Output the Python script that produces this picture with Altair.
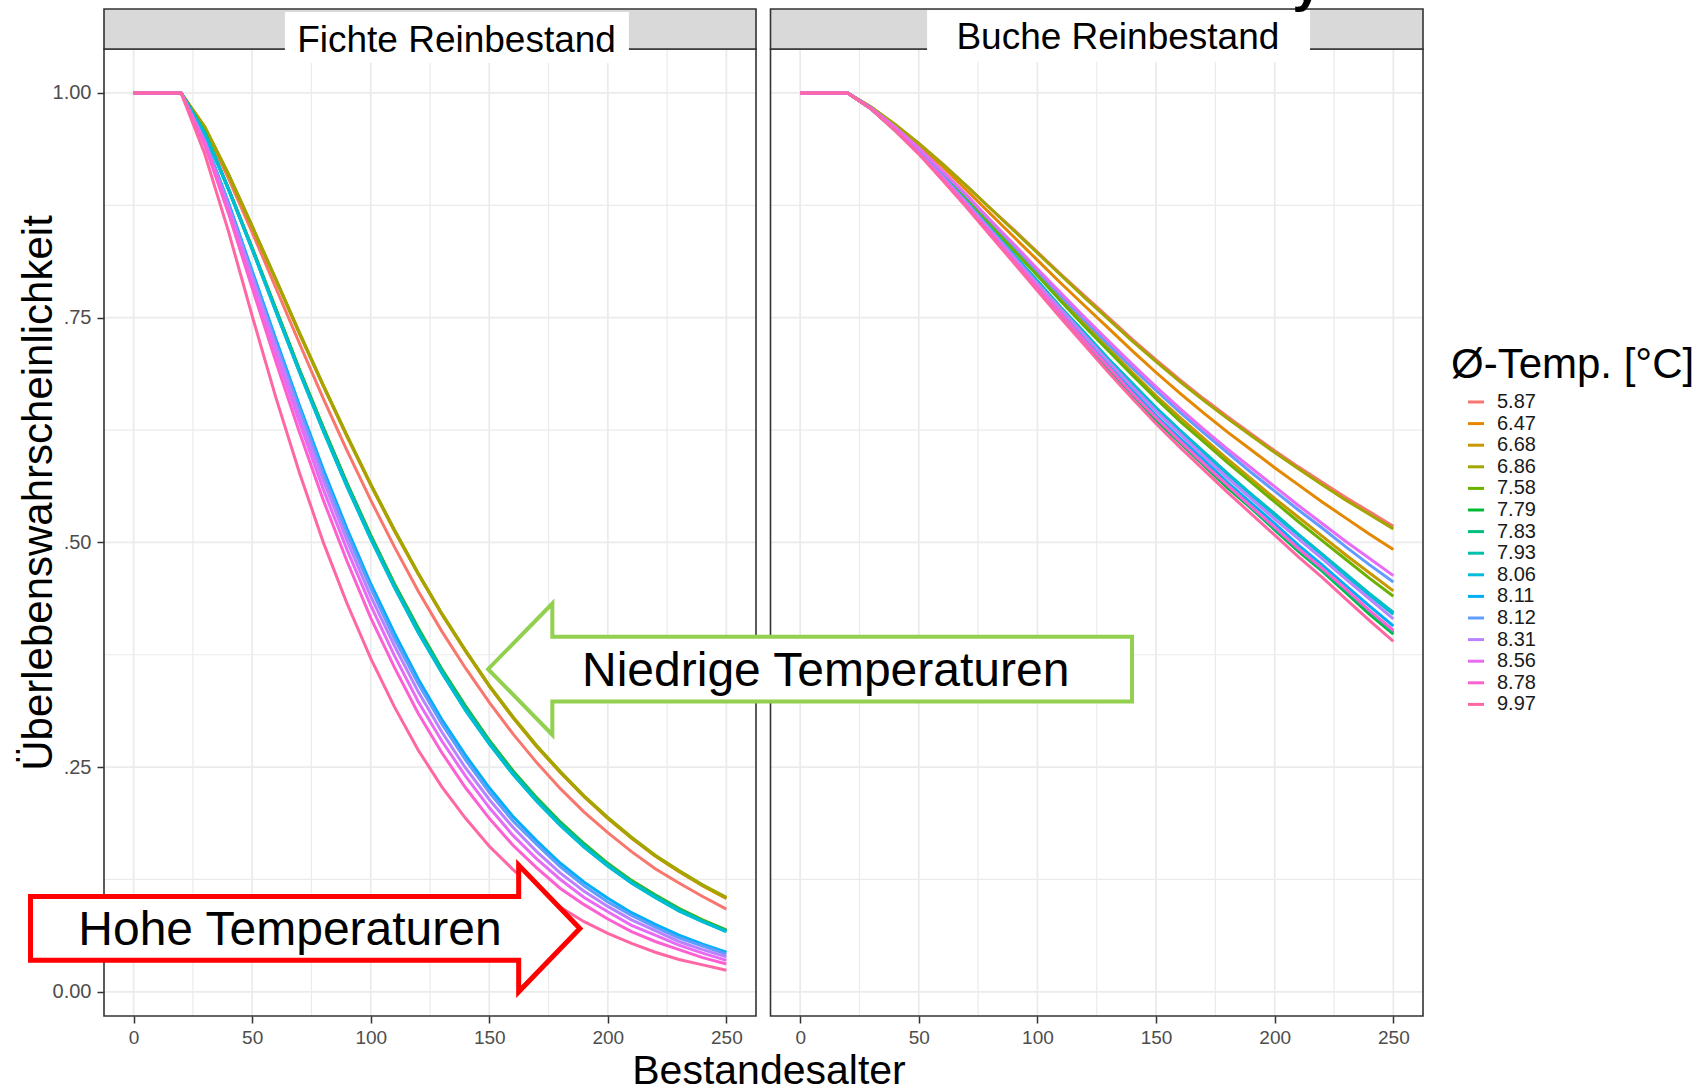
import altair as alt
import pandas as pd

# ---------------- data ----------------
AGES = [0, 10, 20, 30, 40, 50, 60, 70, 80, 90, 100, 110, 120, 130, 140,
        150, 160, 170, 180, 190, 200, 210, 220, 230, 240, 250]
TEMPS = ["5.87", "6.47", "6.68", "6.86", "7.58", "7.79", "7.83", "7.93",
         "8.06", "8.11", "8.12", "8.31", "8.56", "8.78", "9.97"]
COLORS = ["#F8766D", "#E58700", "#C99800", "#A3A500", "#6BB100", "#00BA38",
          "#00BF7D", "#00C0AF", "#00BCD8", "#00B0F6", "#619CFF", "#B983FF",
          "#E76BF3", "#FD61D1", "#FF67A4"]

FICHTE = {
    "5.87": [1, 1, 1, 0.960, 0.905, 0.845, 0.783, 0.721, 0.660, 0.602, 0.547, 0.495, 0.446, 0.401, 0.360, 0.322, 0.287, 0.255, 0.226, 0.200, 0.177, 0.156, 0.137, 0.121, 0.106, 0.092],
    "6.47": [1, 1, 1, 0.962, 0.909, 0.851, 0.792, 0.732, 0.674, 0.618, 0.564, 0.513, 0.465, 0.420, 0.379, 0.340, 0.305, 0.273, 0.244, 0.217, 0.193, 0.171, 0.151, 0.134, 0.118, 0.104],
    "6.68": [1, 1, 1, 0.962, 0.909, 0.851, 0.792, 0.732, 0.674, 0.618, 0.564, 0.513, 0.465, 0.420, 0.379, 0.340, 0.305, 0.273, 0.244, 0.217, 0.193, 0.171, 0.151, 0.134, 0.118, 0.104],
    "6.86": [1, 1, 1, 0.962, 0.910, 0.852, 0.793, 0.733, 0.675, 0.619, 0.565, 0.514, 0.466, 0.421, 0.380, 0.341, 0.306, 0.274, 0.245, 0.218, 0.194, 0.172, 0.152, 0.135, 0.119, 0.105],
    "7.58": [1, 1, 1, 0.956, 0.894, 0.828, 0.760, 0.692, 0.628, 0.566, 0.508, 0.454, 0.405, 0.359, 0.318, 0.280, 0.246, 0.216, 0.189, 0.165, 0.143, 0.124, 0.108, 0.093, 0.080, 0.069],
    "7.79": [1, 1, 1, 0.956, 0.893, 0.827, 0.759, 0.691, 0.627, 0.565, 0.507, 0.453, 0.404, 0.358, 0.317, 0.279, 0.245, 0.215, 0.188, 0.164, 0.142, 0.123, 0.107, 0.092, 0.079, 0.068],
    "7.83": [1, 1, 1, 0.956, 0.893, 0.827, 0.759, 0.691, 0.627, 0.565, 0.507, 0.453, 0.404, 0.358, 0.317, 0.279, 0.245, 0.215, 0.188, 0.164, 0.142, 0.123, 0.107, 0.092, 0.079, 0.068],
    "7.93": [1, 1, 1, 0.955, 0.893, 0.826, 0.757, 0.689, 0.624, 0.562, 0.504, 0.450, 0.400, 0.355, 0.313, 0.276, 0.242, 0.212, 0.185, 0.161, 0.140, 0.121, 0.105, 0.090, 0.078, 0.067],
    "8.06": [1, 1, 1, 0.955, 0.893, 0.826, 0.757, 0.689, 0.624, 0.562, 0.504, 0.450, 0.400, 0.355, 0.313, 0.276, 0.242, 0.212, 0.185, 0.161, 0.140, 0.121, 0.105, 0.090, 0.078, 0.067],
    "8.11": [1, 1, 1, 0.948, 0.878, 0.802, 0.726, 0.652, 0.581, 0.515, 0.454, 0.399, 0.348, 0.303, 0.263, 0.227, 0.195, 0.168, 0.143, 0.122, 0.104, 0.088, 0.075, 0.063, 0.053, 0.044],
    "8.12": [1, 1, 1, 0.947, 0.876, 0.799, 0.722, 0.648, 0.576, 0.510, 0.449, 0.393, 0.343, 0.298, 0.258, 0.222, 0.190, 0.164, 0.139, 0.118, 0.100, 0.085, 0.072, 0.060, 0.051, 0.042],
    "8.31": [1, 1, 1, 0.946, 0.874, 0.795, 0.717, 0.641, 0.569, 0.502, 0.440, 0.385, 0.334, 0.289, 0.249, 0.214, 0.183, 0.156, 0.132, 0.112, 0.095, 0.080, 0.068, 0.056, 0.047, 0.039],
    "8.56": [1, 1, 1, 0.945, 0.870, 0.790, 0.710, 0.633, 0.559, 0.492, 0.430, 0.374, 0.323, 0.279, 0.240, 0.205, 0.174, 0.148, 0.125, 0.105, 0.089, 0.074, 0.063, 0.052, 0.043, 0.035],
    "8.78": [1, 1, 1, 0.942, 0.866, 0.783, 0.701, 0.622, 0.547, 0.479, 0.416, 0.361, 0.310, 0.266, 0.227, 0.193, 0.163, 0.138, 0.115, 0.097, 0.081, 0.067, 0.056, 0.047, 0.038, 0.031],
    "9.97": [1, 1, 1, 0.932, 0.846, 0.752, 0.661, 0.577, 0.500, 0.432, 0.371, 0.317, 0.269, 0.228, 0.193, 0.162, 0.136, 0.113, 0.094, 0.078, 0.065, 0.054, 0.044, 0.036, 0.030, 0.024],
}

BUCHE = {
    "5.87": [1, 1, 1, 0.984, 0.965, 0.944, 0.921, 0.897, 0.872, 0.848, 0.823, 0.798, 0.774, 0.750, 0.726, 0.703, 0.681, 0.660, 0.640, 0.621, 0.602, 0.584, 0.567, 0.550, 0.534, 0.518],
    "6.47": [1, 1, 1, 0.984, 0.964, 0.942, 0.918, 0.892, 0.866, 0.840, 0.814, 0.788, 0.763, 0.738, 0.713, 0.689, 0.666, 0.644, 0.623, 0.603, 0.583, 0.564, 0.545, 0.527, 0.509, 0.492],
    "6.68": [1, 1, 1, 0.983, 0.961, 0.937, 0.911, 0.884, 0.855, 0.827, 0.799, 0.770, 0.743, 0.716, 0.689, 0.663, 0.639, 0.616, 0.593, 0.571, 0.549, 0.528, 0.507, 0.486, 0.466, 0.446],
    "6.86": [1, 1, 1, 0.984, 0.965, 0.944, 0.921, 0.897, 0.872, 0.847, 0.822, 0.797, 0.772, 0.748, 0.724, 0.701, 0.679, 0.658, 0.638, 0.619, 0.600, 0.582, 0.564, 0.547, 0.531, 0.515],
    "7.58": [1, 1, 1, 0.983, 0.961, 0.937, 0.910, 0.883, 0.854, 0.825, 0.797, 0.768, 0.740, 0.713, 0.686, 0.660, 0.635, 0.612, 0.589, 0.567, 0.545, 0.523, 0.502, 0.481, 0.460, 0.440],
    "7.79": [1, 1, 1, 0.982, 0.958, 0.933, 0.904, 0.874, 0.844, 0.813, 0.783, 0.752, 0.722, 0.693, 0.664, 0.636, 0.611, 0.586, 0.561, 0.538, 0.514, 0.490, 0.468, 0.444, 0.420, 0.398],
    "7.83": [1, 1, 1, 0.982, 0.959, 0.933, 0.904, 0.875, 0.844, 0.814, 0.783, 0.753, 0.723, 0.694, 0.665, 0.638, 0.612, 0.587, 0.563, 0.539, 0.515, 0.492, 0.469, 0.446, 0.423, 0.400],
    "7.93": [1, 1, 1, 0.983, 0.960, 0.935, 0.908, 0.879, 0.850, 0.820, 0.791, 0.761, 0.733, 0.704, 0.677, 0.650, 0.625, 0.601, 0.577, 0.554, 0.532, 0.509, 0.487, 0.465, 0.443, 0.422],
    "8.06": [1, 1, 1, 0.983, 0.960, 0.935, 0.907, 0.879, 0.849, 0.820, 0.790, 0.760, 0.732, 0.703, 0.676, 0.649, 0.624, 0.600, 0.576, 0.553, 0.530, 0.508, 0.486, 0.463, 0.441, 0.420],
    "8.11": [1, 1, 1, 0.982, 0.959, 0.934, 0.905, 0.876, 0.846, 0.816, 0.786, 0.756, 0.726, 0.697, 0.669, 0.641, 0.616, 0.592, 0.567, 0.544, 0.521, 0.497, 0.475, 0.452, 0.429, 0.407],
    "8.12": [1, 1, 1, 0.983, 0.962, 0.938, 0.912, 0.886, 0.858, 0.830, 0.802, 0.774, 0.747, 0.720, 0.694, 0.669, 0.645, 0.622, 0.600, 0.578, 0.557, 0.536, 0.516, 0.495, 0.475, 0.456],
    "8.31": [1, 1, 1, 0.982, 0.959, 0.934, 0.907, 0.878, 0.848, 0.818, 0.788, 0.759, 0.730, 0.701, 0.673, 0.646, 0.621, 0.596, 0.572, 0.549, 0.526, 0.504, 0.482, 0.459, 0.437, 0.415],
    "8.56": [1, 1, 1, 0.983, 0.962, 0.939, 0.913, 0.887, 0.859, 0.832, 0.804, 0.777, 0.750, 0.724, 0.698, 0.673, 0.649, 0.626, 0.604, 0.583, 0.562, 0.541, 0.521, 0.501, 0.482, 0.463],
    "8.78": [1, 1, 1, 0.982, 0.959, 0.933, 0.905, 0.875, 0.845, 0.814, 0.784, 0.754, 0.724, 0.695, 0.666, 0.639, 0.613, 0.588, 0.564, 0.540, 0.517, 0.493, 0.471, 0.448, 0.424, 0.402],
    "9.97": [1, 1, 1, 0.982, 0.958, 0.932, 0.903, 0.873, 0.842, 0.811, 0.780, 0.749, 0.719, 0.689, 0.660, 0.632, 0.606, 0.581, 0.556, 0.532, 0.508, 0.484, 0.461, 0.437, 0.413, 0.390],
}

X_MAJOR = [0, 50, 100, 150, 200, 250]
X_MINOR = [25, 75, 125, 175, 225]
Y_MAJOR = [0.0, 0.25, 0.5, 0.75, 1.0]
Y_MINOR = [0.125, 0.375, 0.625, 0.875]

PANEL_TITLES = ["Fichte Reinbestand", "Buche Reinbestand"]
Y_TITLE = "Überlebenswahrscheinlichkeit"
X_TITLE = "Bestandesalter"
LEGEND_TITLE = "Ø-Temp. [°C]"

# annotation arrows (outline in data units of the left panel)
RED_ARROW_AGE = [-43.5, -43.5, 162.4, 162.4, 188.2, 162.4, 162.4, -43.5, -43.5]
RED_ARROW_VAL = [0.0705, 0.106, 0.106, 0.141, 0.0705, 0.000, 0.035, 0.035, 0.0705]
RED_TEXT = "Hohe Temperaturen"
GREEN_ARROW_AGE = [421.1, 421.1, 176.6, 176.6, 149.5, 176.6, 176.6, 421.1, 421.1]
GREEN_ARROW_VAL = [0.359, 0.323, 0.323, 0.286, 0.359, 0.432, 0.395, 0.395, 0.359]
GREEN_TEXT = "Niedrige Temperaturen"

# ---------------- layout ----------------
FONT = "Liberation Sans"
XD = [-12.5, 262.5]
YD = [-0.0269, 1.0489]
W, H = 1319, 967
LEFT_RANGE = [0, 652]
RIGHT_RANGE = [666.5, 1319]


def xs(rng):
    return alt.Scale(domain=XD, range=rng, nice=False, zero=False)


YS = alt.Scale(domain=YD, nice=False, zero=False)
YAX = alt.Axis(values=Y_MAJOR, format=".2f", grid=False, domain=False,
               tickSize=7, tickWidth=1.5, tickColor="#333333",
               labelFontSize=20, labelFont=FONT, labelColor="#4D4D4D",
               labelPadding=6, title=None)


def xax():
    return alt.Axis(values=X_MAJOR, format="d", orient="bottom", grid=False,
                    domain=False, tickSize=7, tickWidth=1.5, tickColor="#333333",
                    labelFontSize=19, labelFont=FONT, labelColor="#4D4D4D",
                    labelPadding=5, labelFlush=False, title=None)


def xdatum(v, rng):
    return alt.X(datum=v, type="quantitative", scale=xs(rng), axis=None)


def ydatum(v):
    return alt.Y(datum=v, type="quantitative", scale=YS, axis=YAX)


LEG = alt.Legend(title=LEGEND_TITLE, orient="none", legendX=1347, legendY=296,
                 titleFontSize=42, titleFont=FONT, titleFontWeight="normal",
                 titleColor="black", titlePadding=5, titleLimit=600,
                 labelFontSize=20, labelFont=FONT, labelColor="#1A1A1A",
                 symbolType="stroke", symbolStrokeWidth=3, symbolSize=256,
                 symbolOffset=15, labelOffset=11, rowPadding=1.6, padding=0)
COLOR = alt.Color("temp:N", scale=alt.Scale(domain=TEMPS, range=COLORS), legend=LEG)

one = pd.DataFrame({"k": [0]})


def long_df(table):
    rows = []
    for t in TEMPS:
        for a, v in zip(AGES, table[t]):
            rows.append({"temp": t, "age": a, "surv": v})
    return pd.DataFrame(rows)


def grid_layers(rng):
    out = []
    for vals, sw in ((X_MINOR, 1.2), (X_MAJOR, 1.8)):
        out.append(alt.Chart(pd.DataFrame({"g": vals})).mark_rule(color="#EBEBEB", strokeWidth=sw)
                   .encode(x=alt.X("g:Q", scale=xs(rng), axis=None)))
    for vals, sw in ((Y_MINOR, 1.2), (Y_MAJOR, 1.8)):
        out.append(alt.Chart(pd.DataFrame({"g": vals})).mark_rule(color="#EBEBEB", strokeWidth=sw)
                   .encode(y=alt.Y("g:Q", scale=YS, axis=YAX),
                           x=xdatum(XD[0], rng), x2=alt.X2(datum=XD[1])))
    return out


def line_layer(table, rng):
    return alt.Chart(long_df(table)).mark_line(strokeWidth=3).encode(
        x=alt.X("age:Q", scale=xs(rng), axis=xax()),
        y=alt.Y("surv:Q", scale=YS, axis=YAX),
        color=COLOR,
    )


def frame_layers(rng, title, title_age, title_dy, box_ages, box_y):
    border = alt.Chart(one).mark_rect(fill="transparent", stroke="#333333", strokeWidth=1.6).encode(
        x=xdatum(XD[0], rng), x2=alt.X2(datum=XD[1]))
    strip = alt.Chart(one).mark_rect(fill="#D9D9D9", stroke="#333333", strokeWidth=1.6).encode(
        x=xdatum(XD[0], rng), x2=alt.X2(datum=XD[1]), y=alt.value(-40), y2=alt.value(0))
    box = alt.Chart(one).mark_rect(fill="white").encode(
        x=xdatum(box_ages[0], rng), x2=alt.X2(datum=box_ages[1]),
        y=alt.value(box_y[0]), y2=alt.value(box_y[1]))
    label = alt.Chart(pd.DataFrame({"t": [title]})).mark_text(
        font=FONT, fontSize=37, color="black", align="center", baseline="alphabetic").encode(
        x=xdatum(title_age, rng), y=alt.value(title_dy), text="t:N")
    return [border, strip, box, label]


def arrow_layers(ages, vals, color, sw, text, t_age, t_val):
    poly = alt.Chart(pd.DataFrame({"a": ages, "v": vals, "o": list(range(len(ages)))})).mark_line(
        fill="white", stroke=color, strokeWidth=sw, strokeJoin="miter").encode(
        x=alt.X("a:Q", scale=xs(LEFT_RANGE), axis=None),
        y=alt.Y("v:Q", scale=YS, axis=YAX),
        order="o:Q")
    txt = alt.Chart(pd.DataFrame({"t": [text]})).mark_text(
        font=FONT, fontSize=48, color="black", align="center", baseline="alphabetic").encode(
        x=xdatum(t_age, LEFT_RANGE), y=ydatum(t_val), text="t:N")
    return [poly, txt]


layers = []
layers += grid_layers(LEFT_RANGE)
layers += grid_layers(RIGHT_RANGE)
layers.append(line_layer(FICHTE, LEFT_RANGE))
layers.append(line_layer(BUCHE, RIGHT_RANGE))
layers += frame_layers(LEFT_RANGE, PANEL_TITLES[0], 136.2, 3, (63.8, 208.9), (-37, 14))
layers += frame_layers(RIGHT_RANGE, PANEL_TITLES[1], 133.9, 0, (53.5, 214.9), (-39, 13))

# y-axis title with white backing (hides the leading digit of some tick labels)
layers.append(alt.Chart(one).mark_rect(fill="white").encode(
    x=alt.value(-94), x2=alt.value(-40.5), y=alt.value(151), y2=alt.value(736)))
layers.append(alt.Chart(pd.DataFrame({"t": [Y_TITLE]})).mark_text(
    font=FONT, fontSize=42, color="black", angle=270, align="center", baseline="alphabetic").encode(
    x=alt.value(-52), y=alt.value(444), text="t:N"))
# x-axis title
layers.append(alt.Chart(pd.DataFrame({"t": [X_TITLE]})).mark_text(
    font=FONT, fontSize=41, color="black", align="center", baseline="alphabetic").encode(
    x=alt.value(665), y=alt.value(1035), text="t:N"))
# fragment of a cut-off heading at the top edge
layers.append(alt.Chart(pd.DataFrame({"t": ["y"]})).mark_text(
    font=FONT, fontSize=52, fontWeight="bold", color="black", align="center", baseline="alphabetic").encode(
    x=alt.value(1203), y=alt.value(-48), text="t:N"))

layers += arrow_layers(RED_ARROW_AGE, RED_ARROW_VAL, "#FF0000", 5, RED_TEXT, 65.95, 0.0521)
layers += arrow_layers(GREEN_ARROW_AGE, GREEN_ARROW_VAL, "#92D050", 4, GREEN_TEXT, 291.9, 0.3402)

chart = (
    alt.layer(*layers)
    .resolve_scale(x="independent")
    .properties(width=W, height=H,
                autosize=alt.AutoSizeParams(type="none"),
                padding={"left": 104, "top": 49, "right": 277, "bottom": 76},
                background="white")
    .configure(font=FONT)
    .configure_view(stroke="transparent")
)

chart.save("out.html", embed_options={"renderer": "svg", "actions": False})
